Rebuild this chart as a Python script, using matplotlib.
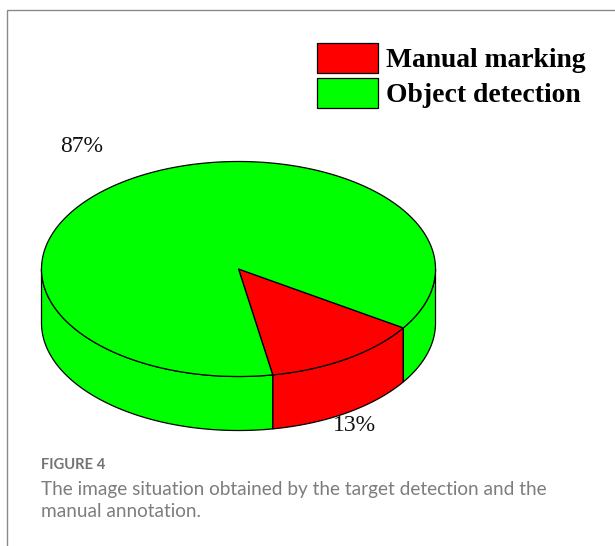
import numpy as np
import matplotlib
matplotlib.use("Agg")
import matplotlib.pyplot as plt
from matplotlib.patches import Polygon, Rectangle

categories = ["Manual marking", "Object detection"]
values = [13, 87]
labels = ["13%", "87%"]
colors = ["#ff0000", "#00ff00"]
caption_head = "FIGURE 4"
caption_lines = ["The image situation obtained by the target detection and the", "manual annotation."]

W, H = 615, 546
fig = plt.figure(figsize=(W / 100, H / 100), dpi=100, facecolor="white")
ax = fig.add_axes([0, 0, 1, 1])
ax.set_xlim(0, W)
ax.set_ylim(H, 0)
ax.axis("off")

# card frame
ax.plot([6.5, 6.5, W], [H, 9.5, 9.5], color="#8a8a8a", lw=1.0, solid_joinstyle="miter")

# pie geometry
cx, cy, a, b, depth = 238.5, 269, 197, 107.5, 54
start = np.deg2rad(-80)
total = sum(values)
sweeps = [2 * np.pi * v / total for v in values]
lw = 0.9

def arc(t0, t1, off=0):
    t = np.linspace(t0, t1, 300)
    return np.column_stack([cx + a * np.cos(t), cy - b * np.sin(t) + off])

spans = []
t0 = start
for s in sweeps:
    spans.append((t0, t0 + s))
    t0 += s

# side walls (visible front half only: sin t < 0)
for (t0, t1), c in zip(spans, colors):
    for lo, hi in [(-np.pi, 0), (np.pi, 2 * np.pi)]:
        l, h = max(t0, lo), min(t1, hi)
        if l < h:
            top = arc(l, h)
            bot = arc(l, h, depth)
            ax.add_patch(Polygon(np.vstack([top, bot[::-1]]), closed=True, fc=c, ec="black", lw=lw, joinstyle="round", zorder=2))

# top slices
for (t0, t1), c in zip(spans, colors):
    ax.add_patch(Polygon(np.vstack([[cx, cy], arc(t0, t1)]), closed=True, fc=c, ec="black", lw=lw, joinstyle="round", zorder=3))

# legend
box_x, box_w, box_h = 316.5, 61.5, 30
for name, c, y in zip(categories, colors, [43, 78]):
    ax.add_patch(Rectangle((box_x, y), box_w, box_h, fc=c, ec="black", lw=0.9, zorder=3))
    ax.text(386, y + box_h / 2 + 2.5, name, family="Liberation Serif", weight="bold", fontsize=19.9, va="center", ha="left", color="black")

# value labels
ax.text(60, 146, labels[1], family="Liberation Serif", fontsize=17, va="center", ha="left", color="#111111")
ax.text(333, 425.5, labels[0], family="Liberation Serif", fontsize=17, va="center", ha="left", color="#111111", zorder=5)

# caption
ax.text(41, 465, caption_head, family="Lato", fontsize=10.6, color="#747474", va="center", ha="left", weight="bold")
for line, y in zip(caption_lines, [489, 511.5]):
    ax.text(41, y, line, family="Lato", fontsize=13.7, color="#7d7d7d", va="center", ha="left")

fig.savefig("out.png", dpi=100, facecolor="white")
